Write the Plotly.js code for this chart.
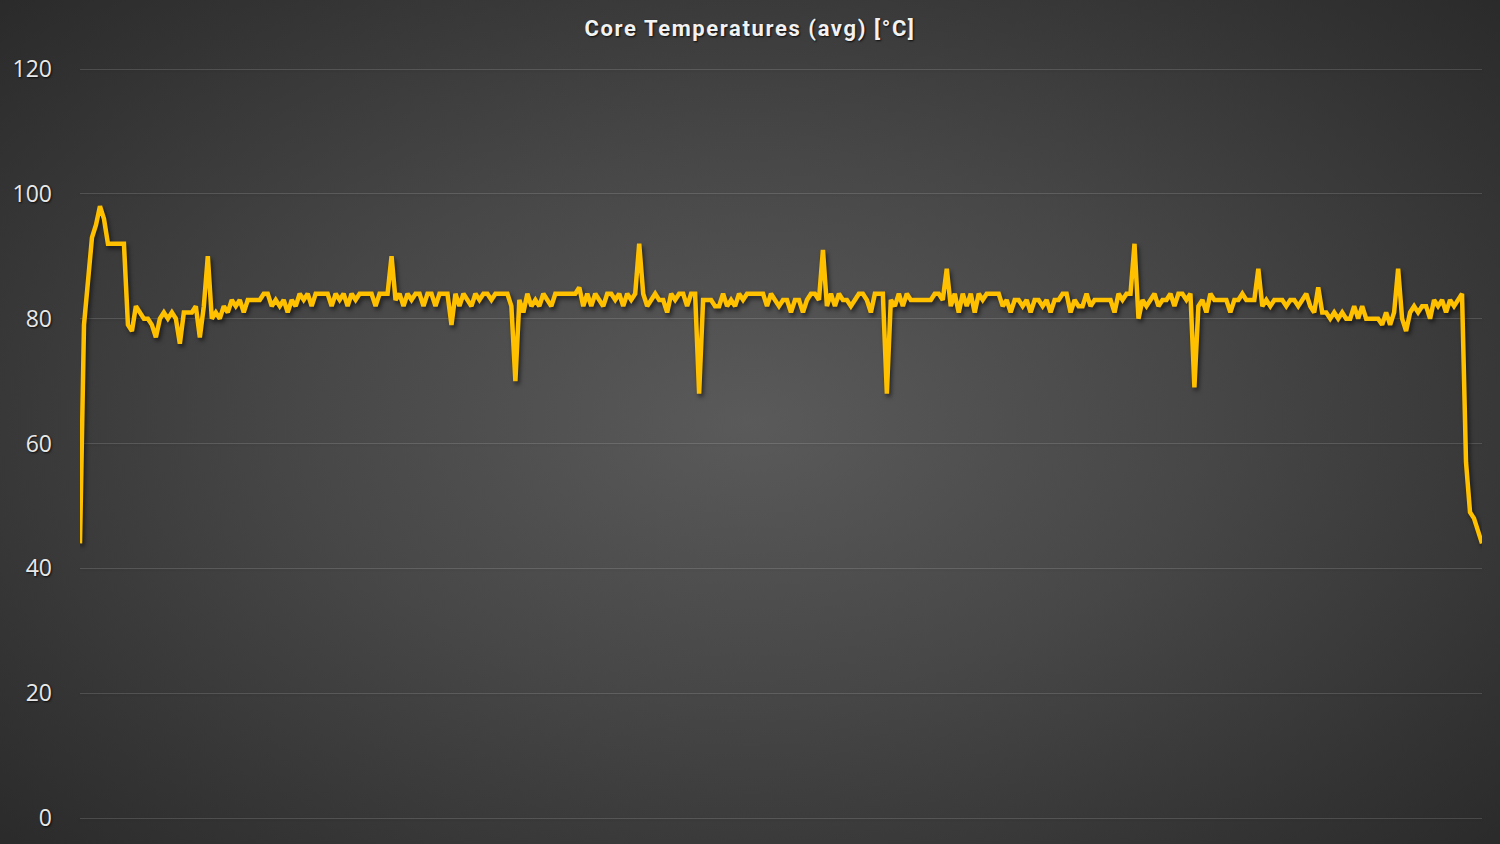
<!DOCTYPE html>
<html>
<head>
<meta charset="utf-8">
<script src="https://cdn.plot.ly/plotly-3.0.1.min.js"></script>
<style>
  html, body { margin: 0; padding: 0; }
  body {
    width: 1500px; height: 844px; overflow: hidden;
    background: radial-gradient(ellipse 75% 80% at 50% 50%, #5a5a5a 0%, #474747 40%, #333333 75%, #262626 100%);
  }
  #chart { width: 1500px; height: 844px; }
  .gtitle { letter-spacing: 1.6px; }
  .scatterlayer .js-line { filter: drop-shadow(2px 3px 2px rgba(0,0,0,0.55)); }
  .gridlayer path { filter: drop-shadow(0px 1px 1px rgba(0,0,0,0.5)); }
</style>
</head>
<body>
<div id="chart"></div>
<script>
// Core temperature average [°C], one sample per time step
const coreTempAvg = [
  44, 79, 86, 93, 95, 98, 96, 92, 92, 92,
  92, 92, 79, 78, 82, 81, 80, 80, 79, 77,
  80, 81, 80, 81, 80, 76, 81, 81, 81, 82,
  77, 82, 90, 80, 81, 80, 82, 81, 83, 82,
  83, 81, 83, 83, 83, 83, 84, 84, 82, 83,
  82, 83, 81, 83, 82, 84, 83, 84, 82, 84,
  84, 84, 84, 82, 84, 83, 84, 82, 84, 83,
  84, 84, 84, 84, 82, 84, 84, 84, 90, 83,
  84, 82, 84, 83, 84, 84, 82, 84, 84, 82,
  84, 84, 84, 79, 84, 82, 84, 83, 82, 84,
  83, 84, 84, 83, 84, 84, 84, 84, 82, 70,
  83, 81, 84, 82, 83, 82, 84, 83, 82, 84,
  84, 84, 84, 84, 84, 85, 82, 84, 82, 84,
  83, 82, 84, 84, 83, 84, 82, 84, 83, 84,
  92, 84, 82, 83, 84, 83, 83, 81, 84, 83,
  84, 84, 82, 84, 84, 68, 83, 83, 83, 82,
  82, 84, 82, 83, 82, 84, 83, 84, 84, 84,
  84, 84, 82, 84, 83, 82, 83, 83, 81, 83,
  83, 81, 83, 84, 84, 83, 91, 82, 84, 82,
  84, 83, 83, 82, 83, 84, 84, 83, 81, 84,
  84, 84, 68, 83, 82, 84, 82, 84, 83, 83,
  83, 83, 83, 83, 84, 84, 83, 88, 82, 84,
  81, 84, 82, 84, 81, 84, 83, 84, 84, 84,
  84, 82, 83, 81, 83, 83, 82, 83, 81, 83,
  83, 82, 83, 81, 83, 83, 84, 84, 81, 83,
  82, 82, 84, 82, 83, 83, 83, 83, 83, 81,
  84, 83, 84, 84, 92, 80, 83, 82, 83, 84,
  82, 83, 83, 84, 82, 84, 84, 83, 84, 69,
  82, 83, 81, 84, 83, 83, 83, 83, 81, 83,
  83, 84, 83, 83, 83, 88, 82, 83, 82, 83,
  83, 83, 82, 83, 83, 82, 83, 84, 82, 81,
  85, 81, 81, 80, 81, 80, 81, 80, 80, 82,
  80, 82, 80, 80, 80, 80, 79, 81, 79, 81,
  88, 80, 78, 81, 82, 81, 82, 82, 80, 83,
  82, 83, 81, 83, 82, 83, 84, 57, 49, 48,
  46, 44
];
const sampleIndex = coreTempAvg.map((_, i) => i);
const yTickValues = [0, 20, 40, 60, 80, 100, 120];
const chartTitle = 'Core Temperatures (avg) [°C]';

const trace = {
  x: sampleIndex,
  y: coreTempAvg,
  type: 'scatter',
  mode: 'lines',
  line: { color: '#FFC000', width: 4.5, shape: 'linear' },
  hoverinfo: 'y'
};

const layout = {
  width: 1500,
  height: 844,
  paper_bgcolor: 'rgba(0,0,0,0)',
  plot_bgcolor: 'rgba(0,0,0,0)',
  margin: { l: 80, r: 18, t: 67, b: 24 },
  showlegend: false,
  title: {
    text: chartTitle,
    x: 0.5, xanchor: 'center',
    y: 1 - 28 / 844, yanchor: 'middle', yref: 'container',
    font: { family: 'Roboto, "Open Sans", sans-serif', size: 22, weight: 700, color: '#f2f2f2', shadow: '1px 1px 2px rgba(0,0,0,0.8)' }
  },
  xaxis: {
    range: [0, coreTempAvg.length - 1],
    showgrid: false, zeroline: false, showline: false,
    showticklabels: false, ticks: ''
  },
  yaxis: {
    range: [-0.32, 120.32],
    tickvals: yTickValues,
    ticktext: yTickValues.map(String),
    showgrid: true,
    gridcolor: 'rgba(255,255,255,0.14)',
    gridwidth: 1,
    zeroline: false,
    showline: false,
    ticks: '',
    ticklabelstandoff: 27,
    tickfont: { family: '"Open Sans", "Liberation Sans", sans-serif', size: 23, color: '#e8e8e8', shadow: '1px 1px 2px rgba(0,0,0,0.8)' }
  }
};

Plotly.newPlot('chart', [trace], layout, { displayModeBar: false, staticPlot: true });
</script>
</body>
</html>
